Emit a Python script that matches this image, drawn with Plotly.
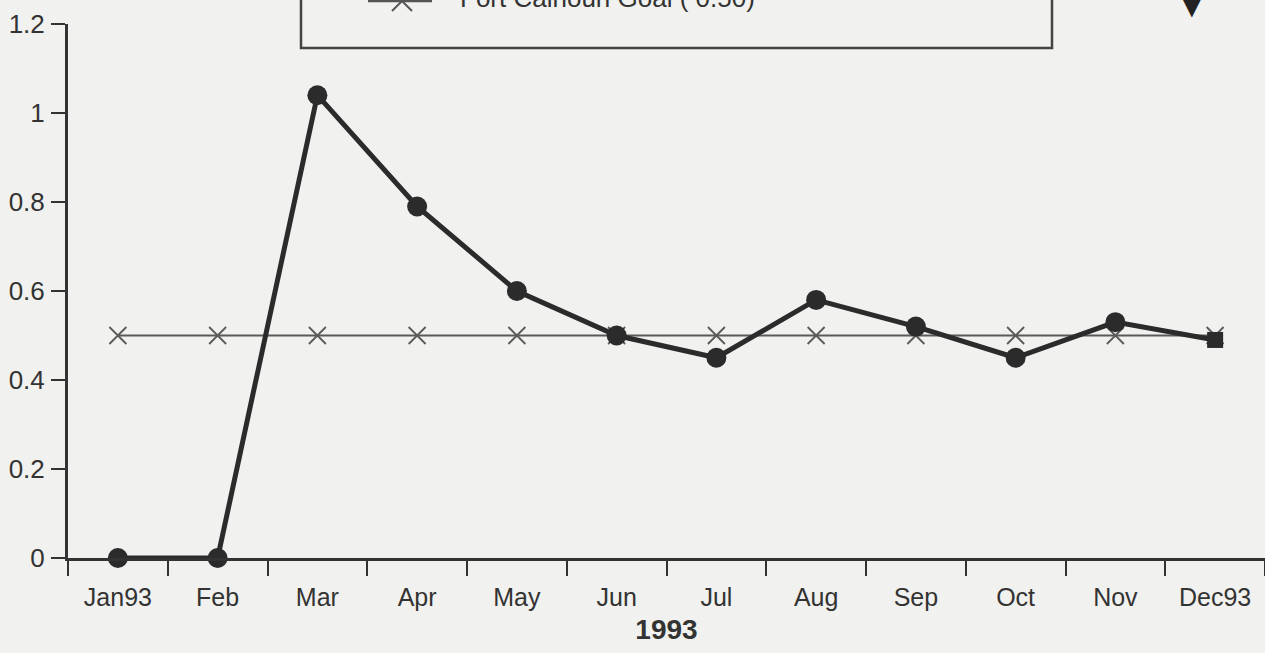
import plotly.graph_objects as go

months = ["Jan93", "Feb", "Mar", "Apr", "May", "Jun", "Jul", "Aug", "Sep", "Oct", "Nov", "Dec93"]
actual = [0.0, 0.0, 1.04, 0.79, 0.60, 0.50, 0.45, 0.58, 0.52, 0.45, 0.53, 0.49]
goal = [0.50] * 12
y_ticks = [0, 0.2, 0.4, 0.6, 0.8, 1, 1.2]
y_labels = ["0", "0.2", "0.4", "0.6", "0.8", "1", "1.2"]
legend_label = "Fort Calhoun Goal ( 0.50)"
x_title = "1993"

ink = "#2b2b2b"
bg = "#f1f1ef"
FONT = "Liberation Sans, Arial, sans-serif"


def px_x(p):
    return (p - 68) / 1197


def px_y(p):
    return 1 + (24 - p) / 534


fig = go.Figure()
fig.add_trace(go.Scatter(
    x=months, y=goal, mode="lines+markers",
    line=dict(color="#5a5a5a", width=2),
    marker=dict(symbol="x-thin-open", size=17, opacity=1, line=dict(color="#5a5a5a", width=1.8)),
    cliponaxis=False, showlegend=False, hoverinfo="skip",
))
fig.add_trace(go.Scatter(
    x=months, y=actual, mode="lines+markers",
    line=dict(color=ink, width=5),
    marker=dict(symbol=["circle"] * 11 + ["square"], size=[20] * 11 + [16], color=ink, opacity=1,
                line=dict(width=0)),
    cliponaxis=False, showlegend=False, hoverinfo="skip",
))

# legend box (partly cut by the top of the page)
fig.add_shape(type="rect", xref="paper", yref="paper", x0=px_x(301), x1=px_x(1052),
              y0=px_y(48), y1=px_y(-60), line=dict(color="#444444", width=2.5), layer="above")
fig.add_shape(type="line", xref="paper", yref="paper", x0=px_x(368), x1=px_x(432),
              y0=px_y(1), y1=px_y(1), line=dict(color="#555555", width=2.5))
for dy in (-1, 1):
    fig.add_shape(type="line", xref="paper", yref="paper", x0=px_x(392), x1=px_x(412),
                  y0=px_y(1 - dy * 10), y1=px_y(1 + dy * 10), line=dict(color="#555555", width=2))
fig.add_annotation(text=legend_label, xref="paper", yref="paper", x=px_x(458), y=px_y(-2),
                   xanchor="left", yanchor="middle", showarrow=False,
                   font=dict(size=26, color="#333333", family=FONT))
fig.add_annotation(text="▼", xref="paper", yref="paper", x=px_x(1192), y=px_y(3),
                   xanchor="center", yanchor="middle", showarrow=False,
                   font=dict(size=40, color="#222222"))

fig.update_layout(
    width=1265, height=653,
    margin=dict(l=68, r=0, t=24, b=95, autoexpand=False),
    paper_bgcolor=bg, plot_bgcolor=bg,
    font=dict(family=FONT, size=26, color="#333333"),
    showlegend=False,
)
fig.update_xaxes(
    type="category", range=[-0.5, 11.5], tickson="boundaries",
    ticks="outside", ticklen=15, tickwidth=2, tickcolor="#333333",
    showline=True, linecolor="#333333", linewidth=3, showgrid=False, zeroline=False,
    ticklabelstandoff=15,
    tickfont=dict(size=25),
    title=dict(text="<b>" + x_title + "</b>", font=dict(size=28, color="#333333"), standoff=10),
)
fig.update_yaxes(
    range=[0, 1.2], tickvals=y_ticks, ticktext=y_labels,
    ticks="outside", ticklen=14, tickwidth=2, tickcolor="#333333",
    showline=True, linecolor="#333333", linewidth=3, showgrid=False, zeroline=False,
    tickfont=dict(size=26),
    ticklabelstandoff=1,
)

fig.write_html("out.html", config={"displayModeBar": False},
               post_script="document.body.style.margin='0';document.body.style.background='" + bg + "';")
